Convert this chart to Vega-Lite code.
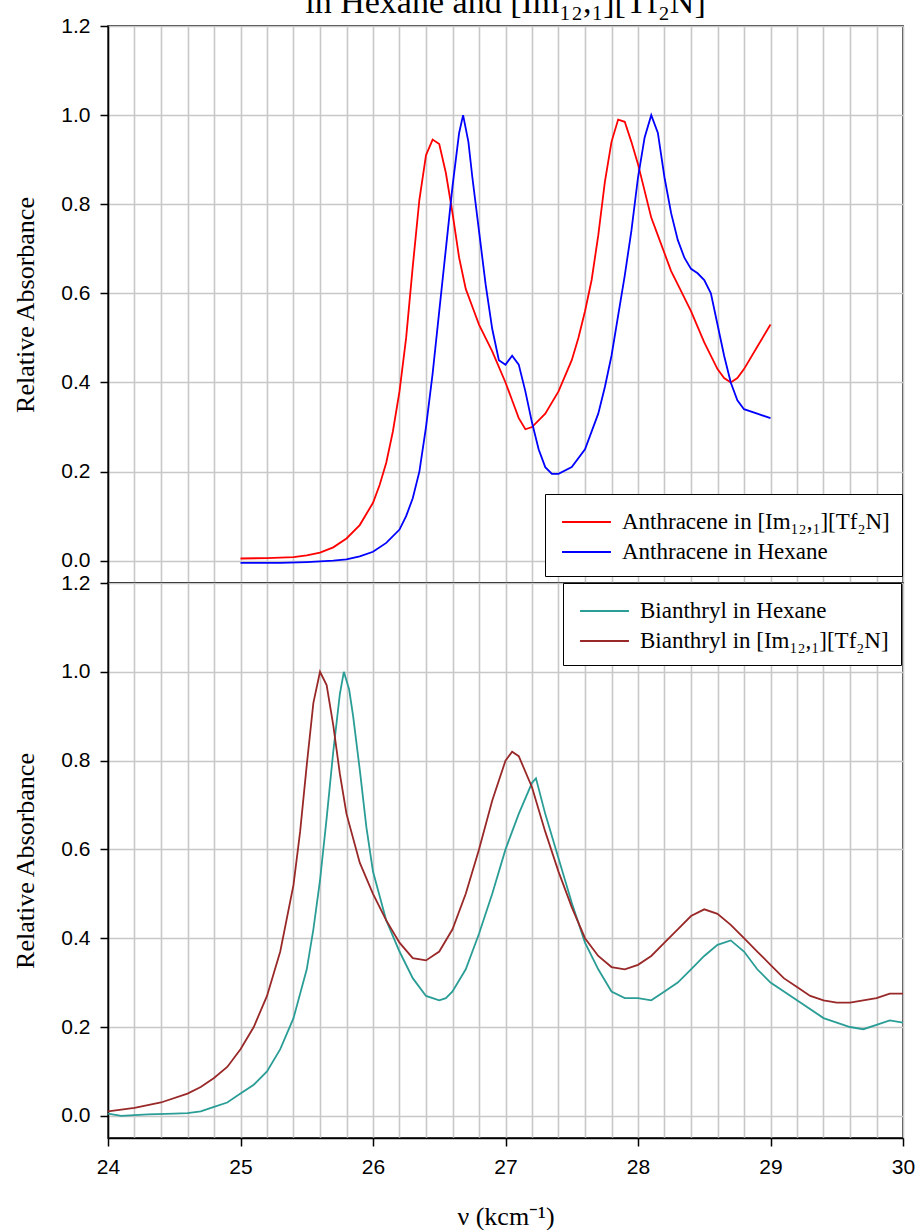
{
  "$schema": "https://vega.github.io/schema/vega-lite/v6.json",
  "background": "white",
  "padding": {"left": 12, "top": -14, "right": 10, "bottom": 0},
  "bounds": "flush",
  "title": {"text": "in Hexane and [Im₁₂,₁][Tf₂N]", "font": "Liberation Serif", "fontSize": 34, "fontWeight": "normal", "color": "black", "anchor": "middle", "frame": "group", "offset": -6},
  "spacing": 0,
  "config": {
    "view": {"stroke": "black", "strokeWidth": 1.5},
    "axis": {
      "labelFont": "Liberation Sans", "labelFontSize": 21, "labelColor": "black",
      "titleFont": "Liberation Serif", "titleFontSize": 26, "titleFontWeight": "normal", "titleColor": "black",
      "domainColor": "black", "domainWidth": 1.5, "tickColor": "black", "tickWidth": 1.5,
      "gridColor": "#c8c8c8", "gridWidth": 1.6, "gridOpacity": 1
    },
    "legend": {
      "title": null, "orient": "none", "symbolType": "M-0.73,0H2.53", "symbolSize": 900, "symbolStrokeWidth": 1.8,
      "labelFont": "Liberation Serif", "labelFontSize": 23, "labelColor": "black", "labelLimit": 500,
      "strokeColor": "black", "fillColor": "white", "padding": 12, "rowPadding": 2, "labelOffset": 33, "cornerRadius": 0
    }
  },
  "datasets": {
    "top": [
      {"x": 25.0, "y": 0.005, "series": "Anthracene in [Im₁₂,₁][Tf₂N]"},
      {"x": 25.2, "y": 0.006, "series": "Anthracene in [Im₁₂,₁][Tf₂N]"},
      {"x": 25.4, "y": 0.008, "series": "Anthracene in [Im₁₂,₁][Tf₂N]"},
      {"x": 25.5, "y": 0.012, "series": "Anthracene in [Im₁₂,₁][Tf₂N]"},
      {"x": 25.6, "y": 0.018, "series": "Anthracene in [Im₁₂,₁][Tf₂N]"},
      {"x": 25.7, "y": 0.03, "series": "Anthracene in [Im₁₂,₁][Tf₂N]"},
      {"x": 25.8, "y": 0.05, "series": "Anthracene in [Im₁₂,₁][Tf₂N]"},
      {"x": 25.9, "y": 0.08, "series": "Anthracene in [Im₁₂,₁][Tf₂N]"},
      {"x": 26.0, "y": 0.13, "series": "Anthracene in [Im₁₂,₁][Tf₂N]"},
      {"x": 26.05, "y": 0.17, "series": "Anthracene in [Im₁₂,₁][Tf₂N]"},
      {"x": 26.1, "y": 0.22, "series": "Anthracene in [Im₁₂,₁][Tf₂N]"},
      {"x": 26.15, "y": 0.29, "series": "Anthracene in [Im₁₂,₁][Tf₂N]"},
      {"x": 26.2, "y": 0.38, "series": "Anthracene in [Im₁₂,₁][Tf₂N]"},
      {"x": 26.25, "y": 0.5, "series": "Anthracene in [Im₁₂,₁][Tf₂N]"},
      {"x": 26.3, "y": 0.66, "series": "Anthracene in [Im₁₂,₁][Tf₂N]"},
      {"x": 26.35, "y": 0.81, "series": "Anthracene in [Im₁₂,₁][Tf₂N]"},
      {"x": 26.4, "y": 0.91, "series": "Anthracene in [Im₁₂,₁][Tf₂N]"},
      {"x": 26.45, "y": 0.945, "series": "Anthracene in [Im₁₂,₁][Tf₂N]"},
      {"x": 26.5, "y": 0.935, "series": "Anthracene in [Im₁₂,₁][Tf₂N]"},
      {"x": 26.55, "y": 0.87, "series": "Anthracene in [Im₁₂,₁][Tf₂N]"},
      {"x": 26.6, "y": 0.78, "series": "Anthracene in [Im₁₂,₁][Tf₂N]"},
      {"x": 26.65, "y": 0.68, "series": "Anthracene in [Im₁₂,₁][Tf₂N]"},
      {"x": 26.7, "y": 0.61, "series": "Anthracene in [Im₁₂,₁][Tf₂N]"},
      {"x": 26.75, "y": 0.57, "series": "Anthracene in [Im₁₂,₁][Tf₂N]"},
      {"x": 26.8, "y": 0.53, "series": "Anthracene in [Im₁₂,₁][Tf₂N]"},
      {"x": 26.9, "y": 0.47, "series": "Anthracene in [Im₁₂,₁][Tf₂N]"},
      {"x": 27.0, "y": 0.4, "series": "Anthracene in [Im₁₂,₁][Tf₂N]"},
      {"x": 27.05, "y": 0.36, "series": "Anthracene in [Im₁₂,₁][Tf₂N]"},
      {"x": 27.1, "y": 0.32, "series": "Anthracene in [Im₁₂,₁][Tf₂N]"},
      {"x": 27.15, "y": 0.295, "series": "Anthracene in [Im₁₂,₁][Tf₂N]"},
      {"x": 27.2, "y": 0.3, "series": "Anthracene in [Im₁₂,₁][Tf₂N]"},
      {"x": 27.3, "y": 0.33, "series": "Anthracene in [Im₁₂,₁][Tf₂N]"},
      {"x": 27.4, "y": 0.38, "series": "Anthracene in [Im₁₂,₁][Tf₂N]"},
      {"x": 27.5, "y": 0.45, "series": "Anthracene in [Im₁₂,₁][Tf₂N]"},
      {"x": 27.55, "y": 0.5, "series": "Anthracene in [Im₁₂,₁][Tf₂N]"},
      {"x": 27.6, "y": 0.56, "series": "Anthracene in [Im₁₂,₁][Tf₂N]"},
      {"x": 27.65, "y": 0.63, "series": "Anthracene in [Im₁₂,₁][Tf₂N]"},
      {"x": 27.7, "y": 0.73, "series": "Anthracene in [Im₁₂,₁][Tf₂N]"},
      {"x": 27.75, "y": 0.85, "series": "Anthracene in [Im₁₂,₁][Tf₂N]"},
      {"x": 27.8, "y": 0.94, "series": "Anthracene in [Im₁₂,₁][Tf₂N]"},
      {"x": 27.85, "y": 0.99, "series": "Anthracene in [Im₁₂,₁][Tf₂N]"},
      {"x": 27.9, "y": 0.985, "series": "Anthracene in [Im₁₂,₁][Tf₂N]"},
      {"x": 27.95, "y": 0.94, "series": "Anthracene in [Im₁₂,₁][Tf₂N]"},
      {"x": 28.0, "y": 0.89, "series": "Anthracene in [Im₁₂,₁][Tf₂N]"},
      {"x": 28.05, "y": 0.83, "series": "Anthracene in [Im₁₂,₁][Tf₂N]"},
      {"x": 28.1, "y": 0.77, "series": "Anthracene in [Im₁₂,₁][Tf₂N]"},
      {"x": 28.15, "y": 0.73, "series": "Anthracene in [Im₁₂,₁][Tf₂N]"},
      {"x": 28.2, "y": 0.69, "series": "Anthracene in [Im₁₂,₁][Tf₂N]"},
      {"x": 28.25, "y": 0.65, "series": "Anthracene in [Im₁₂,₁][Tf₂N]"},
      {"x": 28.3, "y": 0.62, "series": "Anthracene in [Im₁₂,₁][Tf₂N]"},
      {"x": 28.4, "y": 0.56, "series": "Anthracene in [Im₁₂,₁][Tf₂N]"},
      {"x": 28.5, "y": 0.49, "series": "Anthracene in [Im₁₂,₁][Tf₂N]"},
      {"x": 28.6, "y": 0.43, "series": "Anthracene in [Im₁₂,₁][Tf₂N]"},
      {"x": 28.65, "y": 0.41, "series": "Anthracene in [Im₁₂,₁][Tf₂N]"},
      {"x": 28.7, "y": 0.4, "series": "Anthracene in [Im₁₂,₁][Tf₂N]"},
      {"x": 28.75, "y": 0.41, "series": "Anthracene in [Im₁₂,₁][Tf₂N]"},
      {"x": 28.8, "y": 0.43, "series": "Anthracene in [Im₁₂,₁][Tf₂N]"},
      {"x": 28.9, "y": 0.48, "series": "Anthracene in [Im₁₂,₁][Tf₂N]"},
      {"x": 29.0, "y": 0.53, "series": "Anthracene in [Im₁₂,₁][Tf₂N]"},
      {"x": 25.0, "y": -0.005, "series": "Anthracene in Hexane"},
      {"x": 25.3, "y": -0.005, "series": "Anthracene in Hexane"},
      {"x": 25.5, "y": -0.003, "series": "Anthracene in Hexane"},
      {"x": 25.7, "y": 0.0, "series": "Anthracene in Hexane"},
      {"x": 25.8, "y": 0.003, "series": "Anthracene in Hexane"},
      {"x": 25.9, "y": 0.01, "series": "Anthracene in Hexane"},
      {"x": 26.0, "y": 0.02, "series": "Anthracene in Hexane"},
      {"x": 26.1, "y": 0.04, "series": "Anthracene in Hexane"},
      {"x": 26.2, "y": 0.07, "series": "Anthracene in Hexane"},
      {"x": 26.25, "y": 0.1, "series": "Anthracene in Hexane"},
      {"x": 26.3, "y": 0.14, "series": "Anthracene in Hexane"},
      {"x": 26.35, "y": 0.2, "series": "Anthracene in Hexane"},
      {"x": 26.4, "y": 0.3, "series": "Anthracene in Hexane"},
      {"x": 26.45, "y": 0.42, "series": "Anthracene in Hexane"},
      {"x": 26.5, "y": 0.56, "series": "Anthracene in Hexane"},
      {"x": 26.55, "y": 0.7, "series": "Anthracene in Hexane"},
      {"x": 26.6, "y": 0.84, "series": "Anthracene in Hexane"},
      {"x": 26.65, "y": 0.96, "series": "Anthracene in Hexane"},
      {"x": 26.68, "y": 1.0, "series": "Anthracene in Hexane"},
      {"x": 26.72, "y": 0.94, "series": "Anthracene in Hexane"},
      {"x": 26.75, "y": 0.86, "series": "Anthracene in Hexane"},
      {"x": 26.8, "y": 0.74, "series": "Anthracene in Hexane"},
      {"x": 26.85, "y": 0.62, "series": "Anthracene in Hexane"},
      {"x": 26.9, "y": 0.52, "series": "Anthracene in Hexane"},
      {"x": 26.95, "y": 0.45, "series": "Anthracene in Hexane"},
      {"x": 27.0, "y": 0.44, "series": "Anthracene in Hexane"},
      {"x": 27.05, "y": 0.46, "series": "Anthracene in Hexane"},
      {"x": 27.1, "y": 0.44, "series": "Anthracene in Hexane"},
      {"x": 27.15, "y": 0.38, "series": "Anthracene in Hexane"},
      {"x": 27.2, "y": 0.31, "series": "Anthracene in Hexane"},
      {"x": 27.25, "y": 0.25, "series": "Anthracene in Hexane"},
      {"x": 27.3, "y": 0.21, "series": "Anthracene in Hexane"},
      {"x": 27.35, "y": 0.195, "series": "Anthracene in Hexane"},
      {"x": 27.4, "y": 0.195, "series": "Anthracene in Hexane"},
      {"x": 27.5, "y": 0.21, "series": "Anthracene in Hexane"},
      {"x": 27.6, "y": 0.25, "series": "Anthracene in Hexane"},
      {"x": 27.7, "y": 0.33, "series": "Anthracene in Hexane"},
      {"x": 27.75, "y": 0.39, "series": "Anthracene in Hexane"},
      {"x": 27.8, "y": 0.46, "series": "Anthracene in Hexane"},
      {"x": 27.85, "y": 0.55, "series": "Anthracene in Hexane"},
      {"x": 27.9, "y": 0.64, "series": "Anthracene in Hexane"},
      {"x": 27.95, "y": 0.74, "series": "Anthracene in Hexane"},
      {"x": 28.0, "y": 0.86, "series": "Anthracene in Hexane"},
      {"x": 28.05, "y": 0.95, "series": "Anthracene in Hexane"},
      {"x": 28.1, "y": 1.0, "series": "Anthracene in Hexane"},
      {"x": 28.15, "y": 0.96, "series": "Anthracene in Hexane"},
      {"x": 28.2, "y": 0.86, "series": "Anthracene in Hexane"},
      {"x": 28.25, "y": 0.78, "series": "Anthracene in Hexane"},
      {"x": 28.3, "y": 0.72, "series": "Anthracene in Hexane"},
      {"x": 28.35, "y": 0.68, "series": "Anthracene in Hexane"},
      {"x": 28.4, "y": 0.655, "series": "Anthracene in Hexane"},
      {"x": 28.45, "y": 0.645, "series": "Anthracene in Hexane"},
      {"x": 28.5, "y": 0.63, "series": "Anthracene in Hexane"},
      {"x": 28.55, "y": 0.6, "series": "Anthracene in Hexane"},
      {"x": 28.6, "y": 0.53, "series": "Anthracene in Hexane"},
      {"x": 28.65, "y": 0.46, "series": "Anthracene in Hexane"},
      {"x": 28.7, "y": 0.4, "series": "Anthracene in Hexane"},
      {"x": 28.75, "y": 0.36, "series": "Anthracene in Hexane"},
      {"x": 28.8, "y": 0.34, "series": "Anthracene in Hexane"},
      {"x": 28.9, "y": 0.33, "series": "Anthracene in Hexane"},
      {"x": 29.0, "y": 0.32, "series": "Anthracene in Hexane"}
    ],
    "bottom": [
      {"x": 24.0, "y": 0.005, "series": "Bianthryl in Hexane"},
      {"x": 24.1, "y": 0.0, "series": "Bianthryl in Hexane"},
      {"x": 24.3, "y": 0.003, "series": "Bianthryl in Hexane"},
      {"x": 24.5, "y": 0.005, "series": "Bianthryl in Hexane"},
      {"x": 24.6, "y": 0.006, "series": "Bianthryl in Hexane"},
      {"x": 24.7, "y": 0.01, "series": "Bianthryl in Hexane"},
      {"x": 24.8, "y": 0.02, "series": "Bianthryl in Hexane"},
      {"x": 24.9, "y": 0.03, "series": "Bianthryl in Hexane"},
      {"x": 25.0, "y": 0.05, "series": "Bianthryl in Hexane"},
      {"x": 25.1, "y": 0.07, "series": "Bianthryl in Hexane"},
      {"x": 25.2, "y": 0.1, "series": "Bianthryl in Hexane"},
      {"x": 25.3, "y": 0.15, "series": "Bianthryl in Hexane"},
      {"x": 25.4, "y": 0.22, "series": "Bianthryl in Hexane"},
      {"x": 25.5, "y": 0.33, "series": "Bianthryl in Hexane"},
      {"x": 25.55, "y": 0.42, "series": "Bianthryl in Hexane"},
      {"x": 25.6, "y": 0.53, "series": "Bianthryl in Hexane"},
      {"x": 25.65, "y": 0.67, "series": "Bianthryl in Hexane"},
      {"x": 25.7, "y": 0.82, "series": "Bianthryl in Hexane"},
      {"x": 25.75, "y": 0.95, "series": "Bianthryl in Hexane"},
      {"x": 25.78, "y": 1.0, "series": "Bianthryl in Hexane"},
      {"x": 25.82, "y": 0.96, "series": "Bianthryl in Hexane"},
      {"x": 25.85, "y": 0.9, "series": "Bianthryl in Hexane"},
      {"x": 25.9, "y": 0.78, "series": "Bianthryl in Hexane"},
      {"x": 25.95, "y": 0.65, "series": "Bianthryl in Hexane"},
      {"x": 26.0, "y": 0.55, "series": "Bianthryl in Hexane"},
      {"x": 26.1, "y": 0.44, "series": "Bianthryl in Hexane"},
      {"x": 26.2, "y": 0.37, "series": "Bianthryl in Hexane"},
      {"x": 26.3, "y": 0.31, "series": "Bianthryl in Hexane"},
      {"x": 26.4, "y": 0.27, "series": "Bianthryl in Hexane"},
      {"x": 26.5, "y": 0.26, "series": "Bianthryl in Hexane"},
      {"x": 26.55, "y": 0.265, "series": "Bianthryl in Hexane"},
      {"x": 26.6, "y": 0.28, "series": "Bianthryl in Hexane"},
      {"x": 26.7, "y": 0.33, "series": "Bianthryl in Hexane"},
      {"x": 26.8, "y": 0.41, "series": "Bianthryl in Hexane"},
      {"x": 26.9, "y": 0.5, "series": "Bianthryl in Hexane"},
      {"x": 27.0, "y": 0.6, "series": "Bianthryl in Hexane"},
      {"x": 27.1, "y": 0.68, "series": "Bianthryl in Hexane"},
      {"x": 27.2, "y": 0.75, "series": "Bianthryl in Hexane"},
      {"x": 27.23, "y": 0.76, "series": "Bianthryl in Hexane"},
      {"x": 27.3, "y": 0.68, "series": "Bianthryl in Hexane"},
      {"x": 27.4, "y": 0.58, "series": "Bianthryl in Hexane"},
      {"x": 27.5, "y": 0.48, "series": "Bianthryl in Hexane"},
      {"x": 27.6, "y": 0.39, "series": "Bianthryl in Hexane"},
      {"x": 27.7, "y": 0.33, "series": "Bianthryl in Hexane"},
      {"x": 27.8, "y": 0.28, "series": "Bianthryl in Hexane"},
      {"x": 27.9, "y": 0.265, "series": "Bianthryl in Hexane"},
      {"x": 28.0, "y": 0.265, "series": "Bianthryl in Hexane"},
      {"x": 28.1, "y": 0.26, "series": "Bianthryl in Hexane"},
      {"x": 28.2, "y": 0.28, "series": "Bianthryl in Hexane"},
      {"x": 28.3, "y": 0.3, "series": "Bianthryl in Hexane"},
      {"x": 28.4, "y": 0.33, "series": "Bianthryl in Hexane"},
      {"x": 28.5, "y": 0.36, "series": "Bianthryl in Hexane"},
      {"x": 28.6, "y": 0.385, "series": "Bianthryl in Hexane"},
      {"x": 28.7, "y": 0.395, "series": "Bianthryl in Hexane"},
      {"x": 28.8, "y": 0.37, "series": "Bianthryl in Hexane"},
      {"x": 28.9, "y": 0.33, "series": "Bianthryl in Hexane"},
      {"x": 29.0, "y": 0.3, "series": "Bianthryl in Hexane"},
      {"x": 29.2, "y": 0.26, "series": "Bianthryl in Hexane"},
      {"x": 29.4, "y": 0.22, "series": "Bianthryl in Hexane"},
      {"x": 29.5, "y": 0.21, "series": "Bianthryl in Hexane"},
      {"x": 29.6, "y": 0.2, "series": "Bianthryl in Hexane"},
      {"x": 29.7, "y": 0.195, "series": "Bianthryl in Hexane"},
      {"x": 29.8, "y": 0.205, "series": "Bianthryl in Hexane"},
      {"x": 29.9, "y": 0.215, "series": "Bianthryl in Hexane"},
      {"x": 30.0, "y": 0.21, "series": "Bianthryl in Hexane"},
      {"x": 24.0, "y": 0.01, "series": "Bianthryl in [Im₁₂,₁][Tf₂N]"},
      {"x": 24.2, "y": 0.018, "series": "Bianthryl in [Im₁₂,₁][Tf₂N]"},
      {"x": 24.4, "y": 0.03, "series": "Bianthryl in [Im₁₂,₁][Tf₂N]"},
      {"x": 24.6, "y": 0.05, "series": "Bianthryl in [Im₁₂,₁][Tf₂N]"},
      {"x": 24.7, "y": 0.065, "series": "Bianthryl in [Im₁₂,₁][Tf₂N]"},
      {"x": 24.8, "y": 0.085, "series": "Bianthryl in [Im₁₂,₁][Tf₂N]"},
      {"x": 24.9, "y": 0.11, "series": "Bianthryl in [Im₁₂,₁][Tf₂N]"},
      {"x": 25.0, "y": 0.15, "series": "Bianthryl in [Im₁₂,₁][Tf₂N]"},
      {"x": 25.1, "y": 0.2, "series": "Bianthryl in [Im₁₂,₁][Tf₂N]"},
      {"x": 25.2, "y": 0.27, "series": "Bianthryl in [Im₁₂,₁][Tf₂N]"},
      {"x": 25.3, "y": 0.37, "series": "Bianthryl in [Im₁₂,₁][Tf₂N]"},
      {"x": 25.4, "y": 0.52, "series": "Bianthryl in [Im₁₂,₁][Tf₂N]"},
      {"x": 25.45, "y": 0.64, "series": "Bianthryl in [Im₁₂,₁][Tf₂N]"},
      {"x": 25.5, "y": 0.79, "series": "Bianthryl in [Im₁₂,₁][Tf₂N]"},
      {"x": 25.55, "y": 0.93, "series": "Bianthryl in [Im₁₂,₁][Tf₂N]"},
      {"x": 25.6, "y": 1.0, "series": "Bianthryl in [Im₁₂,₁][Tf₂N]"},
      {"x": 25.65, "y": 0.97, "series": "Bianthryl in [Im₁₂,₁][Tf₂N]"},
      {"x": 25.7, "y": 0.88, "series": "Bianthryl in [Im₁₂,₁][Tf₂N]"},
      {"x": 25.75, "y": 0.77, "series": "Bianthryl in [Im₁₂,₁][Tf₂N]"},
      {"x": 25.8, "y": 0.68, "series": "Bianthryl in [Im₁₂,₁][Tf₂N]"},
      {"x": 25.9, "y": 0.57, "series": "Bianthryl in [Im₁₂,₁][Tf₂N]"},
      {"x": 26.0, "y": 0.5, "series": "Bianthryl in [Im₁₂,₁][Tf₂N]"},
      {"x": 26.1, "y": 0.44, "series": "Bianthryl in [Im₁₂,₁][Tf₂N]"},
      {"x": 26.2, "y": 0.39, "series": "Bianthryl in [Im₁₂,₁][Tf₂N]"},
      {"x": 26.3, "y": 0.355, "series": "Bianthryl in [Im₁₂,₁][Tf₂N]"},
      {"x": 26.4, "y": 0.35, "series": "Bianthryl in [Im₁₂,₁][Tf₂N]"},
      {"x": 26.5, "y": 0.37, "series": "Bianthryl in [Im₁₂,₁][Tf₂N]"},
      {"x": 26.6, "y": 0.42, "series": "Bianthryl in [Im₁₂,₁][Tf₂N]"},
      {"x": 26.7, "y": 0.5, "series": "Bianthryl in [Im₁₂,₁][Tf₂N]"},
      {"x": 26.8, "y": 0.6, "series": "Bianthryl in [Im₁₂,₁][Tf₂N]"},
      {"x": 26.9, "y": 0.71, "series": "Bianthryl in [Im₁₂,₁][Tf₂N]"},
      {"x": 27.0, "y": 0.8, "series": "Bianthryl in [Im₁₂,₁][Tf₂N]"},
      {"x": 27.05, "y": 0.82, "series": "Bianthryl in [Im₁₂,₁][Tf₂N]"},
      {"x": 27.1, "y": 0.81, "series": "Bianthryl in [Im₁₂,₁][Tf₂N]"},
      {"x": 27.2, "y": 0.74, "series": "Bianthryl in [Im₁₂,₁][Tf₂N]"},
      {"x": 27.3, "y": 0.64, "series": "Bianthryl in [Im₁₂,₁][Tf₂N]"},
      {"x": 27.4, "y": 0.55, "series": "Bianthryl in [Im₁₂,₁][Tf₂N]"},
      {"x": 27.5, "y": 0.47, "series": "Bianthryl in [Im₁₂,₁][Tf₂N]"},
      {"x": 27.6, "y": 0.4, "series": "Bianthryl in [Im₁₂,₁][Tf₂N]"},
      {"x": 27.7, "y": 0.36, "series": "Bianthryl in [Im₁₂,₁][Tf₂N]"},
      {"x": 27.8, "y": 0.335, "series": "Bianthryl in [Im₁₂,₁][Tf₂N]"},
      {"x": 27.9, "y": 0.33, "series": "Bianthryl in [Im₁₂,₁][Tf₂N]"},
      {"x": 28.0, "y": 0.34, "series": "Bianthryl in [Im₁₂,₁][Tf₂N]"},
      {"x": 28.1, "y": 0.36, "series": "Bianthryl in [Im₁₂,₁][Tf₂N]"},
      {"x": 28.2, "y": 0.39, "series": "Bianthryl in [Im₁₂,₁][Tf₂N]"},
      {"x": 28.3, "y": 0.42, "series": "Bianthryl in [Im₁₂,₁][Tf₂N]"},
      {"x": 28.4, "y": 0.45, "series": "Bianthryl in [Im₁₂,₁][Tf₂N]"},
      {"x": 28.5, "y": 0.465, "series": "Bianthryl in [Im₁₂,₁][Tf₂N]"},
      {"x": 28.6, "y": 0.455, "series": "Bianthryl in [Im₁₂,₁][Tf₂N]"},
      {"x": 28.7, "y": 0.43, "series": "Bianthryl in [Im₁₂,₁][Tf₂N]"},
      {"x": 28.8, "y": 0.4, "series": "Bianthryl in [Im₁₂,₁][Tf₂N]"},
      {"x": 28.9, "y": 0.37, "series": "Bianthryl in [Im₁₂,₁][Tf₂N]"},
      {"x": 29.0, "y": 0.34, "series": "Bianthryl in [Im₁₂,₁][Tf₂N]"},
      {"x": 29.1, "y": 0.31, "series": "Bianthryl in [Im₁₂,₁][Tf₂N]"},
      {"x": 29.2, "y": 0.29, "series": "Bianthryl in [Im₁₂,₁][Tf₂N]"},
      {"x": 29.3, "y": 0.27, "series": "Bianthryl in [Im₁₂,₁][Tf₂N]"},
      {"x": 29.4, "y": 0.26, "series": "Bianthryl in [Im₁₂,₁][Tf₂N]"},
      {"x": 29.5, "y": 0.255, "series": "Bianthryl in [Im₁₂,₁][Tf₂N]"},
      {"x": 29.6, "y": 0.255, "series": "Bianthryl in [Im₁₂,₁][Tf₂N]"},
      {"x": 29.7, "y": 0.26, "series": "Bianthryl in [Im₁₂,₁][Tf₂N]"},
      {"x": 29.8, "y": 0.265, "series": "Bianthryl in [Im₁₂,₁][Tf₂N]"},
      {"x": 29.9, "y": 0.275, "series": "Bianthryl in [Im₁₂,₁][Tf₂N]"},
      {"x": 30.0, "y": 0.275, "series": "Bianthryl in [Im₁₂,₁][Tf₂N]"}
    ]
  },
  "resolve": {"scale": {"color": "independent"}, "legend": {"color": "independent"}},
  "vconcat": [
    {
      "width": 795,
      "height": 557,
      "data": {"name": "top"},
      "mark": {"type": "line", "strokeWidth": 1.8, "clip": true},
      "encoding": {
        "x": {
          "field": "x", "type": "quantitative",
          "scale": {"domain": [24, 30], "nice": false, "zero": false},
          "axis": {"values": [24, 24.2, 24.4, 24.6, 24.8, 25, 25.2, 25.4, 25.6, 25.8, 26, 26.2, 26.4, 26.6, 26.8, 27, 27.2, 27.4, 27.6, 27.8, 28, 28.2, 28.4, 28.6, 28.8, 29, 29.2, 29.4, 29.6, 29.8, 30],
                   "labels": false, "ticks": false, "domain": false, "title": null, "grid": true}
        },
        "y": {
          "field": "y", "type": "quantitative",
          "scale": {"domain": [-0.05, 1.2], "nice": false, "zero": false},
          "axis": {"values": [0, 0.2, 0.4, 0.6, 0.8, 1.0, 1.2], "format": ".1f", "title": "Relative Absorbance",
                   "tickSize": 8, "labelPadding": 10, "titlePadding": 22, "grid": true}
        },
        "color": {
          "field": "series", "type": "nominal",
          "scale": {"domain": ["Anthracene in [Im₁₂,₁][Tf₂N]", "Anthracene in Hexane"], "range": ["#ff0000", "#0000ff"]},
          "legend": {"orient": "none", "legendX": 437, "legendY": 468}
        }
      }
    },
    {
      "width": 795,
      "height": 555,
      "data": {"name": "bottom"},
      "mark": {"type": "line", "strokeWidth": 1.8, "clip": true},
      "encoding": {
        "x": {
          "field": "x", "type": "quantitative",
          "scale": {"domain": [24, 30], "nice": false, "zero": false},
          "axis": {"values": [24, 24.2, 24.4, 24.6, 24.8, 25, 25.2, 25.4, 25.6, 25.8, 26, 26.2, 26.4, 26.6, 26.8, 27, 27.2, 27.4, 27.6, 27.8, 28, 28.2, 28.4, 28.6, 28.8, 29, 29.2, 29.4, 29.6, 29.8, 30],
                   "labelExpr": "datum.value % 1 === 0 ? format(datum.value, 'd') : ''",
                   "labelOverlap": false, "labelFlush": false,
                   "tickSize": 8, "labelPadding": 10,
                   "tickOpacity": {"condition": {"test": "datum.value % 1 === 0", "value": 1}, "value": 0},
                   "title": "ν (kcm⁻¹)", "titlePadding": 26, "grid": true}
        },
        "y": {
          "field": "y", "type": "quantitative",
          "scale": {"domain": [-0.05, 1.2], "nice": false, "zero": false},
          "axis": {"values": [0, 0.2, 0.4, 0.6, 0.8, 1.0, 1.2], "format": ".1f", "title": "Relative Absorbance",
                   "tickSize": 8, "labelPadding": 10, "titlePadding": 22, "grid": true}
        },
        "color": {
          "field": "series", "type": "nominal",
          "scale": {"domain": ["Bianthryl in Hexane", "Bianthryl in [Im₁₂,₁][Tf₂N]"], "range": ["#2a9d96", "#992828"]},
          "legend": {"orient": "none", "legendX": 455, "legendY": 0}
        }
      }
    }
  ]
}
